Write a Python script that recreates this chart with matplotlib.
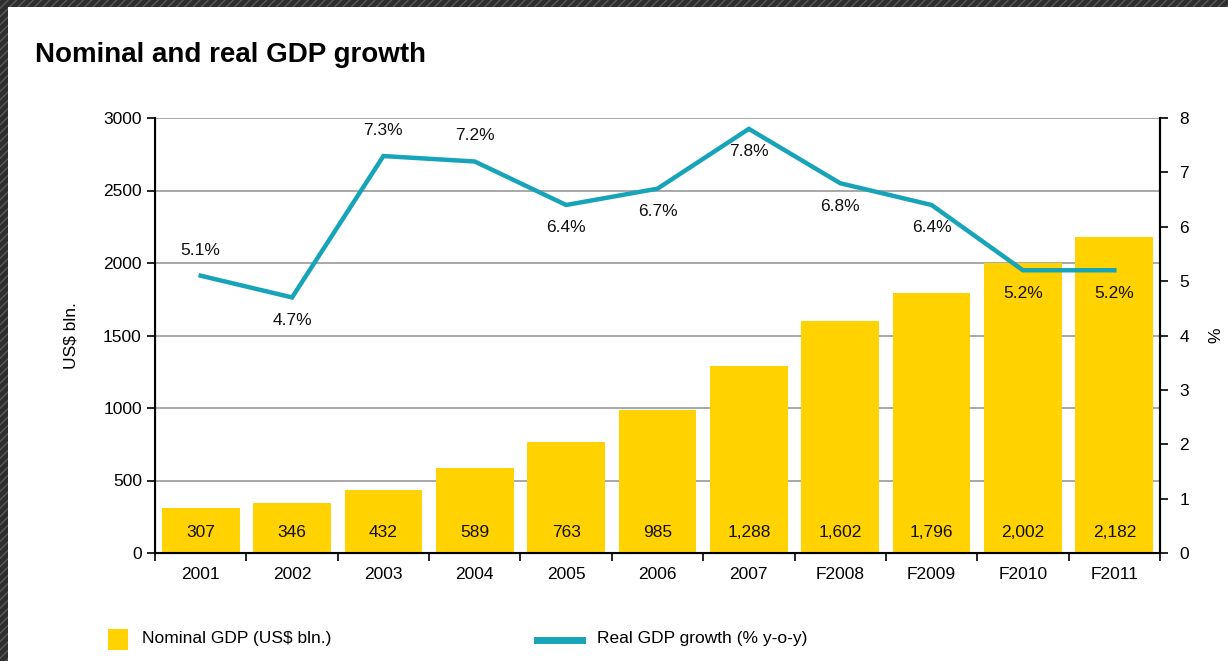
import matplotlib.pyplot as plt
import numpy as np
from matplotlib.patches import Rectangle
from matplotlib.lines import Line2D

years = ['2001', '2002', '2003', '2004', '2005', '2006', '2007',
         'F2008', 'F2009', 'F2010', 'F2011']
nominal_gdp = [307, 346, 432, 589, 763, 985, 1288, 1602, 1796, 2002, 2182]
real_growth = [5.1, 4.7, 7.3, 7.2, 6.4, 6.7, 7.8, 6.8, 6.4, 5.2, 5.2]
label_above = [True, False, True, True, False, False, False, False, False, False, False]

BAR = '#FFD200'
LINE = '#17A3B8'
FONT = ['Liberation Sans', 'DejaVu Sans']

plt.rcParams['font.family'] = FONT

fig = plt.figure(figsize=(12.28, 6.61), dpi=100)

# hatched frame on the left and top edges
frame = Rectangle((0, 0), 1, 1, transform=fig.transFigure, facecolor='#2e2e2e',
                  edgecolor='#5a5a5a', hatch='////', linewidth=0, zorder=-10)
fig.patches.append(frame)
inner = Rectangle((8 / 1228, 0), 1, 1 - 7 / 661, transform=fig.transFigure,
                  facecolor='white', edgecolor='none', zorder=-9)
fig.patches.append(inner)

ax = fig.add_axes([155 / 1228, 1 - 553 / 661, 1005 / 1228, 435 / 661])
ax.set_facecolor('none')
x = np.arange(len(years))

ax.bar(x, nominal_gdp, width=0.85, color=BAR, zorder=2)
for xi, v in zip(x, nominal_gdp):
    ax.text(xi, 140, f'{v:,}', ha='center', va='center', fontsize=12.5, color='#111111', zorder=3)

ax.set_ylim(0, 3000)
ax.set_xlim(-0.5, len(years) - 0.5)
ax.set_yticks(np.arange(0, 3001, 500))
ax.yaxis.grid(True, color='#9a9a9a', linewidth=1.2, zorder=0)
ax.set_axisbelow(True)
ax.set_xticks(x)
ax.set_xticklabels(years)
ax.set_xticks(np.arange(-0.5, len(years)), minor=True)
ax.tick_params(axis='x', which='major', length=0, labelsize=12.5, pad=10)
ax.tick_params(axis='x', which='minor', length=6, width=1.2, direction='out')
ax.tick_params(axis='y', length=6, width=1.2, labelsize=12.5)
for side in ('left', 'bottom', 'right'):
    ax.spines[side].set_linewidth(1.5)
ax.spines['top'].set_visible(False)
ax.set_ylabel('US$ bln.', fontsize=12.5, labelpad=18)

ax2 = ax.twinx()
ax2.plot(x, real_growth, color=LINE, linewidth=3.2, solid_joinstyle='miter', zorder=4)
ax2.set_ylim(0, 8)
ax2.set_yticks(range(0, 9))
ax2.tick_params(axis='y', length=6, width=1.2, labelsize=12.5, pad=8)
ax2.spines['top'].set_visible(False)
ax2.spines['right'].set_linewidth(1.5)
ax2.set_ylabel('%', fontsize=12.5, labelpad=14)
for xi, v, up in zip(x, real_growth, label_above):
    off = 13 if up else -11
    ax2.annotate(f'{v}%', (xi, v), xytext=(0, off), textcoords='offset points',
                 ha='center', va='bottom' if up else 'top', fontsize=12.5, color='#111111')

fig.text(35 / 1228, 1 - 55 / 661, 'Nominal and real GDP growth', fontsize=20,
         fontweight='bold', va='center', ha='left')

# legend drawn manually below the axes
fig.patches.append(Rectangle((108 / 1228, 1 - 650 / 661), 20 / 1228, 21 / 661,
                             transform=fig.transFigure, facecolor=BAR, edgecolor='none'))
fig.text(142 / 1228, 1 - 639 / 661, 'Nominal GDP (US$ bln.)', fontsize=12.5, va='center')
fig.lines.append(Line2D([537 / 1228, 582 / 1228], [1 - 640 / 661] * 2,
                        transform=fig.transFigure, color=LINE, linewidth=5))
fig.text(597 / 1228, 1 - 639 / 661, 'Real GDP growth (% y-o-y)', fontsize=12.5, va='center')

fig.savefig('out.png', dpi=100)
